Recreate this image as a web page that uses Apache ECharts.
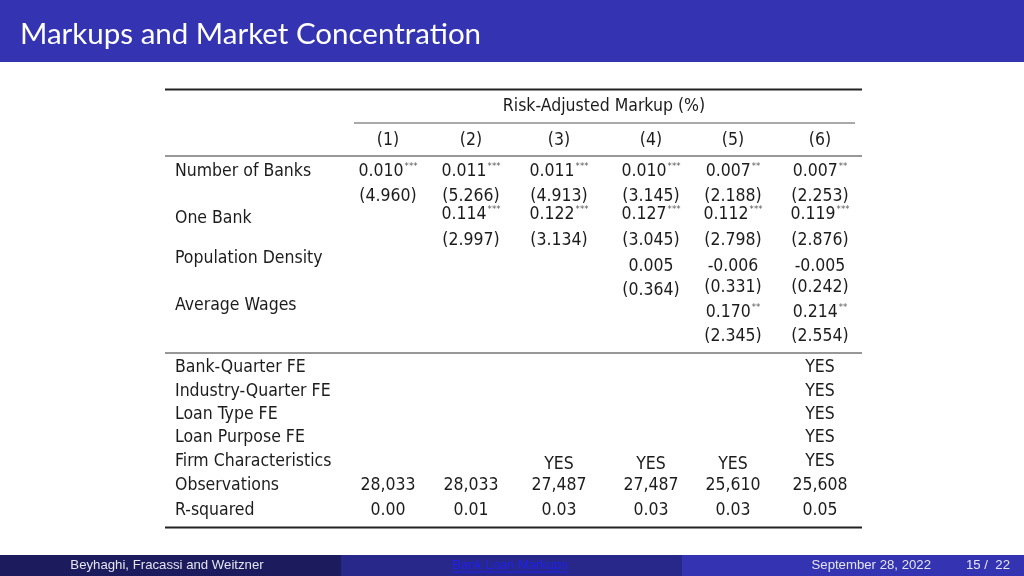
<!DOCTYPE html>
<html>
<head>
<meta charset="utf-8">
<script src="https://cdn.jsdelivr.net/npm/echarts@6/dist/echarts.min.js"></script>
<style>
html,body{margin:0;padding:0;background:#fff;}
#chart{width:1024px;height:576px;}
</style>
</head>
<body>
<div id="chart"></div>
<script>
// ---------- DATA ----------
const slideTitle = 'Markups and Market Concentration';
const depVarTitle = 'Risk-Adjusted Markup (%)';
const columns = ['(1)', '(2)', '(3)', '(4)', '(5)', '(6)'];

const numBanksCoef  = ['0.010', '0.011', '0.011', '0.010', '0.007', '0.007'];
const numBanksStars = ['***', '***', '***', '***', '**', '**'];
const numBanksT     = ['(4.960)', '(5.266)', '(4.913)', '(3.145)', '(2.188)', '(2.253)'];

const oneBankCoef  = [null, '0.114', '0.122', '0.127', '0.112', '0.119'];
const oneBankStars = [null, '***', '***', '***', '***', '***'];
const oneBankT     = [null, '(2.997)', '(3.134)', '(3.045)', '(2.798)', '(2.876)'];

const popDensCoef  = [null, null, null, '0.005', '-0.006', '-0.005'];
const popDensStars = [null, null, null, '', '', ''];
const popDensT     = [null, null, null, '(0.364)', '(0.331)', '(0.242)'];

const avgWagesCoef  = [null, null, null, null, '0.170', '0.214'];
const avgWagesStars = [null, null, null, null, '**', '**'];
const avgWagesT     = [null, null, null, null, '(2.345)', '(2.554)'];

const controlNames = ['Bank-Quarter FE', 'Industry-Quarter FE', 'Loan Type FE', 'Loan Purpose FE', 'Firm Characteristics'];
const bankQuarterFE     = [null, null, null, null, null, 'YES'];
const industryQuarterFE = [null, null, null, null, null, 'YES'];
const loanTypeFE        = [null, null, null, null, null, 'YES'];
const loanPurposeFE     = [null, null, null, null, null, 'YES'];
const firmChars         = [null, null, 'YES', 'YES', 'YES', 'YES'];
const observations = ['28,033', '28,033', '27,487', '27,487', '25,610', '25,608'];
const rSquared     = ['0.00', '0.01', '0.03', '0.03', '0.03', '0.05'];

const footerAuthors = 'Beyhaghi, Fracassi and Weitzner';
const footerShortTitle = 'Bank Loan Markups';
const footerDate = 'September 28, 2022';
const footerPage = '15 /  22';

// ---------- LAYOUT (positions & styles) ----------
const W = 1024, H = 576;
const TF = '"DejaVu Sans Condensed", "DejaVu Sans", sans-serif';
const FS = 17.5;
const TXT = '#1c1c1c';
const colX = [388, 471, 559, 651, 733, 820];
const labelX = 175;
const ruleL = 165, ruleR = 862;

const els = [];
function txt(x, y, s, align, extra) {
  els.push({type: 'text', x: x, y: y, silent: true,
    style: Object.assign({text: s, align: align || 'center', verticalAlign: 'middle',
      fill: TXT, fontFamily: TF, fontSize: FS}, extra || {})});
}
function coef(x, y, v, st) {
  els.push({type: 'text', x: x, y: y, silent: true,
    style: {text: '{n|' + v + '}' + (st ? '{s|' + st + '}' : ''), align: 'center', verticalAlign: 'middle',
      rich: {
        n: {fontFamily: TF, fontSize: FS, fill: TXT, lineHeight: 20},
        s: {fontFamily: TF, fontSize: 9.5, fill: '#555', verticalAlign: 'top', lineHeight: 20, padding: [1, 0, 0, 1]}
      }}});
}
function rule(x1, x2, y, w, c) {
  els.push({type: 'line', silent: true, shape: {x1: x1, y1: y, x2: x2, y2: y},
    style: {stroke: c || '#222', lineWidth: w}});
}
function rowVals(arr, y, starsArr, yOff) {
  arr.forEach(function (v, i) {
    if (v === null) return;
    const yy = y + (yOff ? yOff[i] : 0);
    if (starsArr) coef(colX[i], yy, v, starsArr[i]); else txt(colX[i], yy, v);
  });
}

// title bar
els.push({type: 'rect', silent: true, shape: {x: 0, y: 0, width: W, height: 62}, style: {fill: '#3434b2'}});
txt(20, 34, slideTitle, 'left', {fill: '#ffffff', fontFamily: 'Lato, "Open Sans", sans-serif', fontSize: 29.5});

// table rules
rule(ruleL, ruleR, 89.5, 1.8, '#222');
rule(354, 855, 123, 1.2, '#555');
rule(ruleL, ruleR, 156, 1.2, '#333');
rule(ruleL, ruleR, 353, 1.2, '#333');
rule(ruleL, ruleR, 527.5, 2, '#222');

// header
txt(604, 106, depVarTitle);
columns.forEach(function (c, i) { txt(colX[i], 140, c); });

// variable labels
txt(labelX, 171, 'Number of Banks', 'left');
txt(labelX, 218, 'One Bank', 'left');
txt(labelX, 258, 'Population Density', 'left');
txt(labelX, 305, 'Average Wages', 'left');

rowVals(numBanksCoef, 171, numBanksStars);
rowVals(numBanksT, 196);
rowVals(oneBankCoef, 214, oneBankStars);
rowVals(oneBankT, 240);
rowVals(popDensCoef, 266, popDensStars);
rowVals(popDensT, 287, null, [0, 0, 0, 3, 0, 0]);
rowVals(avgWagesCoef, 312, avgWagesStars);
rowVals(avgWagesT, 336);

// controls
const ctrlY = [367, 391, 414, 437, 461];
const ctrlRows = [bankQuarterFE, industryQuarterFE, loanTypeFE, loanPurposeFE, firmChars];
controlNames.forEach(function (n, k) {
  txt(labelX, ctrlY[k], n, 'left');
  rowVals(ctrlRows[k], ctrlY[k], null, k === 4 ? [3, 3, 3, 3, 3, 0] : null);
});
txt(labelX, 485, 'Observations', 'left');
rowVals(observations, 485);
txt(labelX, 510, 'R-squared', 'left');
rowVals(rSquared, 510);

// footer
const FF = '"Liberation Sans", Arial, sans-serif';
els.push({type: 'rect', silent: true, shape: {x: 0, y: 555, width: 341, height: 21}, style: {fill: '#1b1b5e'}});
els.push({type: 'rect', silent: true, shape: {x: 341, y: 555, width: 341, height: 21}, style: {fill: '#28288a'}});
els.push({type: 'rect', silent: true, shape: {x: 682, y: 555, width: 342, height: 21}, style: {fill: '#3434b2'}});
txt(167, 565.5, footerAuthors, 'center', {fill: '#e4e4ee', fontFamily: FF, fontSize: 13.2});
txt(510, 565.5, footerShortTitle, 'center', {fill: '#2020ee', fontFamily: FF, fontSize: 13});
els.push({type: 'line', silent: true, shape: {x1: 452, y1: 572, x2: 568, y2: 572}, style: {stroke: '#2020ee', lineWidth: 1}});
txt(931, 565.5, footerDate, 'right', {fill: '#e4e4ee', fontFamily: FF, fontSize: 13.2});
txt(1010, 565.5, footerPage, 'right', {fill: '#e4e4ee', fontFamily: FF, fontSize: 13.2});

const chart = echarts.init(document.getElementById('chart'), null, {renderer: 'canvas', width: W, height: H});
chart.setOption({
  backgroundColor: '#ffffff',
  animation: false,
  graphic: {elements: els}
});
</script>
</body>
</html>
